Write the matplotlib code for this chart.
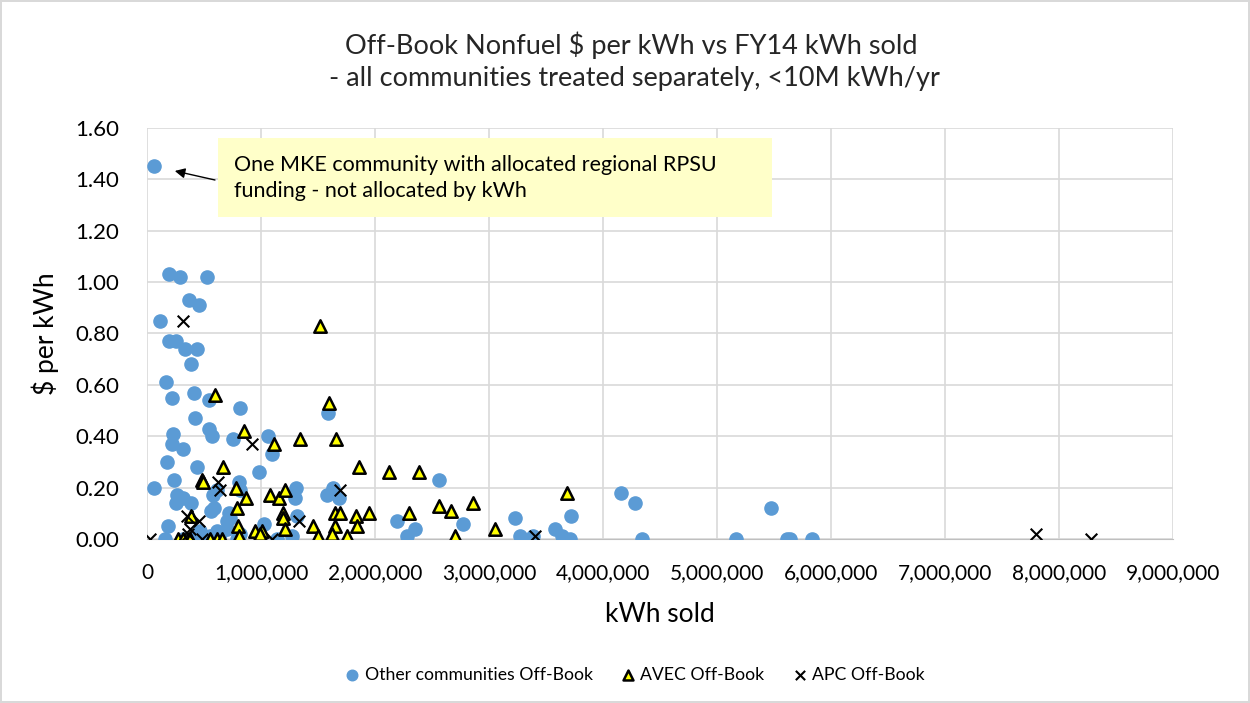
import matplotlib.pyplot as plt
from matplotlib.patches import Rectangle
from matplotlib.ticker import FuncFormatter, MultipleLocator

plt.rcParams['font.family'] = ['Lato', 'DejaVu Sans']

# Other communities (kWh sold, $ per kWh)
other_kwh = [60000, 190000, 290000, 530000, 370000, 460000, 110000, 190000, 250000, 330000,
             440000, 390000, 170000, 220000, 410000, 540000, 820000, 420000, 540000, 570000,
             230000, 220000, 320000, 750000, 1060000, 1100000, 1590000, 175000, 440000, 980000,
             240000, 60000, 260000, 320000, 250000, 390000, 580000, 590000, 560000, 810000,
             720000, 700000, 730000, 180000, 1030000, 820000, 320000, 400000, 550000, 640000,
             790000, 1140000, 1310000, 1300000, 1320000, 1270000, 1580000, 1630000, 1680000, 2190000,
             2350000, 2280000, 2560000, 2770000, 3230000, 3270000, 3390000, 3580000, 3640000, 3720000,
             3710000, 4160000, 4280000, 4340000, 5170000, 5470000, 5610000, 5640000, 5830000, 610000,
             465000, 816000, 158000, 610000, 700000]
other_val = [1.45, 1.03, 1.02, 1.02, 0.93, 0.91, 0.85, 0.77, 0.77, 0.74,
             0.74, 0.68, 0.61, 0.55, 0.57, 0.54, 0.51, 0.47, 0.43, 0.40,
             0.41, 0.37, 0.35, 0.39, 0.40, 0.33, 0.49, 0.30, 0.28, 0.26,
             0.23, 0.20, 0.17, 0.16, 0.14, 0.14, 0.17, 0.12, 0.11, 0.22,
             0.10, 0.07, 0.08, 0.05, 0.06, 0.19, 0.00, 0.00, 0.01, 0.02,
             0.00, 0.00, 0.20, 0.16, 0.09, 0.01, 0.17, 0.20, 0.16, 0.07,
             0.04, 0.01, 0.23, 0.06, 0.08, 0.01, 0.01, 0.04, 0.01, 0.09,
             0.00, 0.18, 0.14, 0.00, 0.00, 0.12, 0.00, 0.00, 0.00, 0.19,
             0.03, 0.02, 0.00, 0.03, 0.04]

# AVEC
avec_kwh = [1520000, 600000, 1600000, 850000, 1110000, 1340000, 1660000, 670000, 1860000, 2120000,
            2390000, 480000, 490000, 780000, 870000, 1080000, 1160000, 1210000, 790000, 390000,
            1190000, 1190000, 1650000, 1690000, 1830000, 1950000, 2300000, 800000, 950000, 1010000,
            1210000, 1460000, 1650000, 1840000, 810000, 980000, 990000, 1500000, 1620000, 1750000,
            270000, 320000, 380000, 550000, 610000, 660000, 2560000, 2670000, 2860000, 2700000,
            3050000, 3680000]
avec_val = [0.83, 0.56, 0.53, 0.42, 0.37, 0.39, 0.39, 0.28, 0.28, 0.26,
            0.26, 0.23, 0.22, 0.20, 0.16, 0.17, 0.16, 0.19, 0.12, 0.09,
            0.10, 0.08, 0.10, 0.10, 0.09, 0.10, 0.10, 0.05, 0.03, 0.03,
            0.04, 0.05, 0.05, 0.05, 0.01, 0.00, 0.02, 0.01, 0.02, 0.01,
            0.00, 0.00, 0.00, 0.00, 0.00, 0.00, 0.13, 0.11, 0.14, 0.01,
            0.04, 0.18]

# APC
apc_kwh = [30000, 320000, 920000, 620000, 640000, 1690000, 350000, 460000, 380000, 360000,
           480000, 1100000, 1330000, 3400000, 7800000, 8280000]
apc_val = [0.00, 0.85, 0.37, 0.22, 0.19, 0.19, 0.09, 0.07, 0.04, 0.02,
           0.00, 0.00, 0.07, 0.01, 0.02, 0.00]

fig = plt.figure(figsize=(12.5, 7.03), dpi=100)
fig.patch.set_edgecolor('#D9D9D9')
fig.patch.set_linewidth(1.5)
ax = fig.add_axes([0.1176, 0.2333, 0.8208, 0.5847])

ax.scatter(other_kwh, other_val, s=90, color='#5B9BD5', zorder=3, label='Other communities Off-Book')
ax.scatter(avec_kwh, avec_val, s=80, marker='^', color='#FFFF00', edgecolors='black',
           linewidths=1.8, zorder=4, label='AVEC Off-Book')
ax.scatter(apc_kwh, apc_val, s=70, marker='x', color='black', linewidths=1.5, zorder=5,
           label='APC Off-Book')

ax.set_xlim(0, 9000000)
ax.set_ylim(0, 1.6)
ax.xaxis.set_major_locator(MultipleLocator(1000000))
ax.yaxis.set_major_locator(MultipleLocator(0.2))
ax.xaxis.set_major_formatter(FuncFormatter(lambda v, p: f'{int(v):,}'))
ax.yaxis.set_major_formatter(FuncFormatter(lambda v, p: f'{v:.2f}'))
ax.grid(True, color='#D9D9D9', linewidth=1.2)
ax.set_axisbelow(True)
for s in ['top', 'right', 'left']:
    ax.spines[s].set_visible(False)
ax.spines['bottom'].set_color('#BFBFBF')
ax.tick_params(axis='both', length=0, colors='#000000')
ax.tick_params(axis='x', pad=17, labelsize=15)
ax.tick_params(axis='y', pad=20, labelsize=16)

ax.set_xlabel('kWh sold', fontsize=19, labelpad=14)
ax.set_ylabel('$ per kWh', fontsize=19, labelpad=12)

fig.text(0.505, 0.935, 'Off-Book Nonfuel $ per kWh vs FY14 kWh sold', ha='center', va='center',
         fontsize=19.5, color='#262626')
fig.text(0.505, 0.888, ' - all communities treated separately, <10M kWh/yr', ha='center', va='center',
         fontsize=19.5, color='#262626')

# callout box
ax.add_patch(Rectangle((620000, 1.253), 4860000, 0.307, facecolor='#FFFFC9', edgecolor='none', zorder=6))
ax.text(760000, 1.405, 'One MKE community with allocated regional RPSU\nfunding - not allocated by kWh',
        fontsize=15.5, va='center', ha='left', linespacing=1.35, zorder=7)
ax.annotate('', xy=(220000, 1.435), xytext=(620000, 1.395),
            arrowprops=dict(arrowstyle='-|>', color='black', lw=1, mutation_scale=15), zorder=7)

fig.legend(loc='center', bbox_to_anchor=(0.508, 0.04), ncol=3, frameon=False, fontsize=12.7,
           handlelength=0.8, handletextpad=0.3, columnspacing=1.6, markerscale=0.8)

fig.savefig('out.png', dpi=100)
